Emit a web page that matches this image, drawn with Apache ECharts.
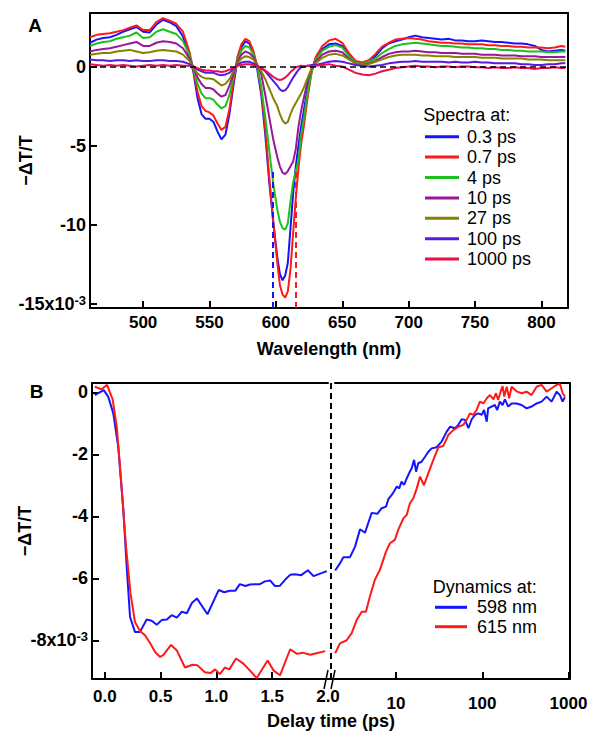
<!DOCTYPE html>
<html>
<head>
<meta charset="utf-8">
<script src="https://cdn.jsdelivr.net/npm/echarts@6/dist/echarts.min.js"></script>
<style>html,body{margin:0;padding:0;background:#fff;}#chart{width:589px;height:735px;}</style>
</head>
<body>
<div id="chart"></div>
<script>
// ---------- Panel A data (−ΔT/T in units of 1e-3) ----------
const wavelengths = [460,465,470,475,480,485,490,495,500,505,510,515,520,525,530,535,
538,541,544,547,550,553,556,559,562,565,568,571,574,577,580,583,586,
589,592,595,598,601,
603,605,607,609,611,613,615,617,619,621,
624,627,630,
635,640,645,650,655,660,665,670,675,680,685,690,695,700,705,710,715,720,725,730,735,740,745,750,755,760,765,770,775,780,785,790,795,800,805,810,815,
818];
const spec03ps = [1.5,1.7,1.8,1.85,2.0,2.2,2.35,2.5,2.2,2.15,2.65,2.95,2.8,2.55,1.9,0.6,
-0.4,-2.0,-3.0,-3.3,-3.3,-3.5,-4.1,-4.6,-4.3,-3.0,-1.2,0.4,1.2,1.6,1.45,0.9,-0.2,
-1.8,-4.3,-7.3,-9.8,-12.0,
-13.1,-13.5,-13.2,-12.4,-10.2,-8.0,-6.3,-5.0,-3.8,-2.8,
-1.3,-0.2,0.5,
1.1,1.4,1.45,1.3,0.75,0.3,0.15,0.35,0.65,1.15,1.45,1.6,1.7,1.85,1.95,1.85,1.8,1.75,1.7,1.75,1.65,1.65,1.6,1.6,1.65,1.6,1.55,1.55,1.5,1.45,1.45,1.4,1.3,1.05,0.95,1.0,1.05,
1.0];
const spec07ps = [1.85,2.0,2.05,2.1,2.2,2.3,2.45,2.6,2.3,2.3,2.8,3.05,2.9,2.7,2.2,0.9,
-0.3,-1.6,-2.5,-2.8,-2.9,-3.1,-3.6,-4.0,-3.8,-2.7,-1.0,0.6,1.4,1.75,1.6,1.0,0.0,
-1.5,-3.9,-7.0,-9.8,-12.3,
-13.8,-14.4,-14.6,-14.2,-12.8,-10.5,-8.3,-6.4,-4.9,-3.8,
-1.9,-0.3,0.6,
1.3,1.65,1.75,1.5,0.85,0.35,0.25,0.4,0.8,1.25,1.5,1.7,1.75,1.8,1.75,1.7,1.6,1.55,1.5,1.5,1.45,1.45,1.4,1.4,1.4,1.35,1.35,1.3,1.3,1.25,1.25,1.2,1.2,1.2,1.15,1.2,1.3,
1.25];
const spec4ps = [1.3,1.45,1.55,1.6,1.75,1.85,1.95,2.15,1.8,1.85,2.2,2.35,2.2,2.05,1.6,0.7,
-0.2,-1.1,-1.7,-2.0,-2.0,-2.1,-2.4,-2.65,-2.5,-1.8,-0.7,0.4,1.0,1.3,1.2,0.8,0.0,
-1.3,-3.2,-5.3,-7.4,-9.0,
-9.8,-10.2,-10.3,-9.9,-8.5,-7.3,-6.6,-5.9,-4.3,-3.3,
-1.6,-0.3,0.4,
1.0,1.25,1.35,1.2,0.65,0.25,0.15,0.3,0.5,0.85,1.1,1.3,1.4,1.45,1.5,1.45,1.4,1.35,1.3,1.3,1.25,1.2,1.2,1.15,1.15,1.1,1.1,1.05,1.05,1.0,1.0,0.95,0.95,0.95,0.9,0.9,0.95,
0.95];
const spec10ps = [0.95,1.05,1.1,1.15,1.25,1.35,1.45,1.55,1.3,1.3,1.5,1.6,1.55,1.45,1.15,0.5,
-0.1,-0.7,-1.1,-1.35,-1.35,-1.45,-1.7,-1.9,-1.8,-1.2,-0.5,0.3,0.75,0.95,0.85,0.6,0.1,
-0.5,-1.8,-3.2,-4.6,-5.7,
-6.3,-6.7,-6.8,-6.6,-6.3,-6.0,-5.2,-3.8,-2.8,-2.0,
-0.9,-0.1,0.3,
0.75,0.95,1.0,0.9,0.5,0.2,0.1,0.2,0.35,0.6,0.8,0.9,0.95,0.95,1.0,0.95,0.9,0.9,0.85,0.85,0.85,0.8,0.8,0.8,0.75,0.75,0.75,0.7,0.7,0.7,0.65,0.65,0.65,0.6,0.6,0.6,0.6,
0.6];
const spec27ps = [0.75,0.8,0.85,0.85,0.95,1.0,1.05,0.95,0.85,0.9,1.0,1.05,1.0,0.95,0.75,0.35,
-0.1,-0.45,-0.65,-0.75,-0.75,-0.8,-1.0,-1.2,-1.1,-0.8,-0.3,0.2,0.5,0.65,0.6,0.45,0.1,
-0.3,-0.8,-1.4,-2.0,-2.5,
-3.0,-3.4,-3.6,-3.5,-3.0,-2.6,-2.3,-2.0,-1.7,-1.35,
-0.7,-0.1,0.2,
0.55,0.75,0.8,0.7,0.45,0.2,0.1,0.15,0.3,0.45,0.6,0.7,0.75,0.75,0.75,0.7,0.7,0.65,0.65,0.65,0.6,0.6,0.6,0.6,0.55,0.55,0.55,0.5,0.5,0.5,0.5,0.45,0.45,0.45,0.4,0.4,0.4,
0.4];
const spec100ps = [0.45,0.4,0.4,0.35,0.4,0.4,0.35,0.4,0.35,0.35,0.4,0.4,0.35,0.35,0.3,0.15,
0.0,-0.2,-0.3,-0.4,-0.4,-0.4,-0.5,-0.55,-0.5,-0.4,-0.15,0.1,0.25,0.3,0.3,0.2,0.05,
-0.1,-0.3,-0.6,-0.9,-1.2,
-1.45,-1.55,-1.5,-1.3,-1.0,-0.7,-0.45,-0.2,-0.05,0.0,
0.05,0.1,0.1,
0.2,0.3,0.35,0.3,0.2,0.1,0.05,0.0,0.05,0.1,0.2,0.25,0.3,0.3,0.35,0.3,0.3,0.3,0.3,0.25,0.3,0.25,0.25,0.3,0.25,0.25,0.2,0.2,0.2,0.2,0.15,0.15,0.1,0.1,0.15,0.15,0.2,
0.2];
const spec1000ps = [0.15,0.1,0.05,0.1,0.05,0.1,0.05,0.0,0.05,0.1,0.05,0.1,0.05,0.1,0.05,0.05,
0.0,-0.1,-0.2,-0.25,-0.25,-0.3,-0.3,-0.35,-0.3,-0.2,-0.1,0.05,0.1,0.15,0.15,0.1,0.0,
-0.1,-0.25,-0.45,-0.65,-0.8,
-0.85,-0.8,-0.7,-0.55,-0.35,-0.2,-0.05,0.0,0.05,0.0,
0.05,0.0,0.05,
0.1,0.15,0.05,0.0,-0.2,-0.4,-0.5,-0.55,-0.45,-0.3,-0.2,-0.1,-0.05,0.0,0.05,0.0,0.0,-0.05,0.0,0.0,-0.05,0.0,0.0,-0.05,-0.05,-0.1,-0.05,-0.1,-0.1,-0.05,-0.1,-0.1,-0.15,-0.1,-0.1,-0.05,-0.1,
-0.1];
const spectraNames = ['0.3 ps','0.7 ps','4 ps','10 ps','27 ps','100 ps','1000 ps'];
const probeWavelengths = [598, 615];
const wlTicks = [500,550,600,650,700,750,800];
const yTicksA = [0,-5,-10,-15];

// ---------- Panel B data ----------
const t598Early = [-0.09,-0.01,0.03,0.076,0.12,0.166,0.196,0.226,0.27,0.315,0.375,0.42,0.465,0.51,0.555,0.6,0.645,0.69,0.735,0.78,0.825,0.92,1.02,1.07,1.12,1.17,1.21,1.26,1.3,1.345,1.39,1.435,1.48,1.525,1.57,1.615,1.66,1.705,1.76,1.82,1.87,1.93,1.99];
const v598Early = [-0.09,0.07,-0.14,-0.68,-1.75,-3.8,-5.63,-7.25,-7.73,-7.73,-7.33,-7.37,-7.5,-7.35,-7.33,-7.19,-7.27,-7.08,-7.13,-6.8,-6.65,-7.16,-6.38,-6.45,-6.4,-6.4,-6.19,-6.25,-6.2,-6.19,-6.19,-6.1,-6.07,-6.25,-6.24,-6.05,-5.89,-5.87,-5.9,-5.74,-5.93,-5.85,-5.77];
const t615Early = [-0.09,-0.03,0.02,0.07,0.107,0.15,0.19,0.23,0.27,0.315,0.36,0.405,0.45,0.495,0.526,0.593,0.644,0.718,0.786,0.829,0.897,0.947,0.988,1.031,1.075,1.116,1.176,1.244,1.301,1.361,1.459,1.513,1.57,1.661,1.722,1.772,1.84,1.907,1.975];
const v615Early = [0.18,0.1,0.24,-0.23,-1.11,-3.05,-4.98,-6.49,-7.41,-7.7,-7.84,-8.09,-8.38,-8.54,-8.47,-8.15,-8.32,-8.88,-8.79,-8.81,-9.03,-9.06,-8.94,-9.09,-8.88,-8.94,-8.59,-8.76,-8.98,-9.22,-8.65,-8.98,-9.13,-8.29,-8.44,-8.4,-8.47,-8.41,-8.35];
const t598Late = [1.97,2.24,2.45,2.93,3.35,3.83,4.37,5.22,6.07,6.82,7.66,8.15,8.92,9.48,10.2,10.9,11.6,12.4,13.3,14.3,15.2,16.2,17.1,18.1,19.8,21.7,23.7,25.9,29.6,33.8,38.7,42.3,48.3,52.8,57.8,63.2,69.1,75.5,82.5,90.2,98.7,104.9,112.7,117,128,140,149,160,172,183,200,219,250,286,327,373,427,488,557,637,728,796,855,908];
const v598Late = [-5.75,-5.52,-5.32,-5.32,-4.98,-4.42,-4.53,-3.89,-3.92,-3.74,-3.69,-3.45,-3.31,-3.2,-3.04,-3.1,-2.88,-2.99,-2.78,-2.59,-2.45,-2.18,-2.56,-2.29,-2.24,-2.08,-1.92,-1.81,-1.77,-1.59,-1.27,-1.11,-1.16,-1.05,-0.87,-0.89,-1.16,-0.87,-0.73,-0.68,-0.73,-0.57,-0.95,-0.52,-0.46,-0.41,-0.57,-0.3,-0.41,-0.23,-0.46,-0.36,-0.36,-0.41,-0.52,-0.46,-0.36,-0.3,-0.14,-0.3,0.02,-0.09,-0.3,-0.16];
const t615Late = [1.97,2.24,2.68,3.06,3.5,4.0,4.48,4.98,5.69,6.51,7.66,8.5,9.7,10.6,12.2,13.3,14.5,15.9,17.4,19,21.1,23.7,27.1,31,35.4,40.4,46.2,52.8,60.3,65.9,72,78.7,86,94,103,113,123,135,144,153,163,172,180,192,205,219,254,286,327,373,427,488,557,637,728,796,855,912];
const v615Late = [-8.42,-8.1,-8.0,-7.77,-7.35,-7.08,-7.08,-6.59,-6.05,-5.73,-5.14,-4.87,-4.76,-4.44,-4.06,-3.96,-3.58,-3.42,-3.1,-2.72,-3.0,-2.61,-2.18,-1.77,-1.73,-1.38,-1.22,-1.11,-1.05,-0.89,-0.68,-0.73,-0.57,-0.3,-0.36,-0.19,-0.09,-0.23,-0.03,-0.25,0.02,0.2,-0.14,0.18,-0.19,0.18,0.02,-0.03,0.02,-0.09,0.18,0.24,0.02,0.13,0.24,0.27,-0.03,-0.14];
const dynamicsNames = ['598 nm','615 nm'];
const earlyTicks = [0,0.5,1.0,1.5];
const earlyLabels = [0,0.5,1.0,1.5,2.0];
const lateTicks = [10,100,1000];
const yTicksB = [0,-2,-4,-6,-8];

// ---------- styling ----------
const FONT = '"Liberation Sans", Arial, Helvetica, sans-serif';
const spectraColors = ['#1414ff','#ff1a1a','#1ec01e','#9a169a','#868200','#5a18e0','#e8104a'];
const dynColors = ['#1414ff','#ff1a1a'];
const spectraData = [spec03ps, spec07ps, spec4ps, spec10ps, spec27ps, spec100ps, spec1000ps];

function pairs(xs, ys){ return xs.map((x,i)=>[x, ys[i]]); }

const lineAx = {show:true, onZero:false, lineStyle:{color:'#000', width:2}};
const tickIn = {show:true, inside:true, length:7, lineStyle:{color:'#000', width:2}};
const lblFont = {fontSize:17, fontWeight:'bold', fontFamily:FONT, color:'#000'};
function frameAxis(extra){ return Object.assign({type:'value', axisLine:lineAx, axisTick:{show:false}, axisLabel:{show:false}, splitLine:{show:false}}, extra); }
const superRich = {
  n:{fontSize:18, fontWeight:'bold', fontFamily:FONT, color:'#000', lineHeight:21},
  s:{fontSize:13, fontWeight:'bold', fontFamily:FONT, color:'#000', verticalAlign:'top', lineHeight:13}
};
const yNameStyle = {fontSize:18, fontWeight:'bold', fontFamily:FONT, color:'#000'};

const A_MIN = -15.25, A_MAX = 3.38, B_MIN = -9.25, B_MAX = 0.3;

const series = [];
spectraNames.forEach((nm, i) => {
  const s = {
    type:'line', name:nm, xAxisIndex:0, yAxisIndex:0,
    data: pairs(wavelengths, spectraData[i]),
    showSymbol:false, symbol:'none', animation:false,
    lineStyle:{width:2, color:spectraColors[i]}, itemStyle:{color:spectraColors[i]}
  };
  if (i === 0) {
    s.markLine = {silent:true, symbol:'none', animation:false, label:{show:false},
      data:[
        {yAxis:0, lineStyle:{color:'#000', type:[6,4], width:1.5}},
        [{coord:[probeWavelengths[0], A_MIN], lineStyle:{color:dynColors[0], type:[6,4], width:2}}, {coord:[probeWavelengths[0], -6.5]}]
      ]};
  }
  if (i === 1) {
    s.markLine = {silent:true, symbol:'none', animation:false, label:{show:false},
      data:[
        [{coord:[probeWavelengths[1], A_MIN], lineStyle:{color:dynColors[1], type:[6,4], width:2}}, {coord:[probeWavelengths[1], -6.5]}]
      ]};
  }
  series.push(s);
});
const dynSets = [[t598Early, v598Early, t598Late, v598Late],[t615Early, v615Early, t615Late, v615Late]];
dynamicsNames.forEach((nm, i) => {
  const d = dynSets[i];
  series.push({type:'line', name:nm, xAxisIndex:2, yAxisIndex:2, data:pairs(d[0], d[1]), showSymbol:false, symbol:'none', animation:false,
    lineStyle:{width:2, color:dynColors[i]}, itemStyle:{color:dynColors[i]}});
  series.push({type:'line', name:nm, xAxisIndex:4, yAxisIndex:3, data:pairs(d[2], d[3]), showSymbol:false, symbol:'none', animation:false,
    lineStyle:{width:2, color:dynColors[i]}, itemStyle:{color:dynColors[i]}});
});

const option = {
  animation:false,
  backgroundColor:'#fff',
  grid:[
    {left:90, top:13, width:478, height:295, containLabel:false, outerBoundsMode:'none'},
    {left:92, top:383, width:236, height:296, containLabel:false, outerBoundsMode:'none'},
    {left:335, top:383, width:234.5, height:296, containLabel:false, outerBoundsMode:'none'}
  ],
  xAxis:[
    {type:'value', gridIndex:0, position:'bottom', min:460, max:820,
      axisLine:lineAx, axisTick:Object.assign({customValues:wlTicks}, tickIn),
      axisLabel:Object.assign({customValues:wlTicks, margin:6}, lblFont), splitLine:{show:false},
      name:'Wavelength (nm)', nameLocation:'middle', nameGap:32, nameMoveOverlap:false,
      nameTextStyle:{fontSize:18, fontWeight:'bold', fontFamily:FONT, color:'#000'}},
    frameAxis({gridIndex:0, position:'top', min:460, max:820}),
    {type:'value', gridIndex:1, position:'bottom', min:-0.115, max:2.0,
      axisLine:lineAx, axisTick:Object.assign({customValues:earlyTicks}, tickIn),
      axisLabel:Object.assign({customValues:earlyLabels, margin:9, formatter:v=>Number(v).toFixed(1)}, lblFont), splitLine:{show:false}},
    frameAxis({gridIndex:1, position:'top', min:-0.115, max:2.0}),
    {type:'log', logBase:10, gridIndex:2, position:'bottom', min:1.962, max:1027,
      axisLine:lineAx, axisTick:Object.assign({customValues:lateTicks}, tickIn),
      axisLabel:Object.assign({customValues:lateTicks, margin:16, formatter:v=>String(Math.round(v))}, lblFont),
      minorTick:{show:false}, splitLine:{show:false}},
    frameAxis({type:'log', gridIndex:2, position:'top', min:1.962, max:1027})
  ],
  yAxis:[
    {type:'value', gridIndex:0, position:'left', min:A_MIN, max:A_MAX,
      axisLine:lineAx, axisTick:Object.assign({customValues:yTicksA}, tickIn),
      axisLabel:{customValues:yTicksA, margin:4, formatter:v => v === -15 ? '{n|-15x10}{s|-3}' : '{n|' + v + '}', rich:superRich},
      splitLine:{show:false},
      name:'\u2212\u0394T/T', nameLocation:'middle', nameRotate:90, nameGap:55, nameMoveOverlap:false,
      nameTextStyle:yNameStyle},
    frameAxis({gridIndex:0, position:'right', min:A_MIN, max:A_MAX}),
    {type:'value', gridIndex:1, position:'left', min:B_MIN, max:B_MAX,
      axisLine:lineAx, axisTick:Object.assign({customValues:yTicksB}, tickIn),
      axisLabel:{customValues:yTicksB, margin:4, formatter:v => v === -8 ? '{n|-8x10}{s|-3}' : '{n|' + v + '}', rich:superRich},
      splitLine:{show:false},
      name:'\u2212\u0394T/T', nameLocation:'middle', nameRotate:90, nameGap:58, nameMoveOverlap:false,
      nameTextStyle:yNameStyle},
    frameAxis({gridIndex:2, position:'right', min:B_MIN, max:B_MAX})
  ],
  legend:[
    {data:spectraNames, orient:'vertical', left:425, top:126.5, itemWidth:34, itemHeight:3, icon:'rect', itemGap:0,
      selectedMode:false, padding:0,
      textStyle:{fontSize:18, fontFamily:FONT, color:'#000', lineHeight:20.4, padding:[0,0,0,3]}},
    {data:dynamicsNames, orient:'vertical', left:435, top:597.6, itemWidth:32, itemHeight:3, icon:'rect', itemGap:0,
      selectedMode:false, padding:0,
      textStyle:{fontSize:18, fontFamily:FONT, color:'#000', lineHeight:19.4, padding:[0,0,0,5]}}
  ],
  graphic:[
    {type:'text', x:35, y:25, style:{text:'A', fontSize:19, fontWeight:'bold', fontFamily:FONT, fill:'#000', align:'center', verticalAlign:'middle'}},
    {type:'text', x:36.5, y:391, style:{text:'B', fontSize:19, fontWeight:'bold', fontFamily:FONT, fill:'#000', align:'center', verticalAlign:'middle'}},
    {type:'text', x:423.3, y:115, style:{text:'Spectra at:', fontSize:18, fontFamily:FONT, fill:'#000', align:'left', verticalAlign:'middle'}},
    {type:'text', x:432.7, y:586.7, style:{text:'Dynamics at:', fontSize:18, fontFamily:FONT, fill:'#000', align:'left', verticalAlign:'middle'}},
    {type:'text', x:331, y:721, style:{text:'Delay time (ps)', fontSize:18, fontWeight:'bold', fontFamily:FONT, fill:'#000', align:'center', verticalAlign:'middle'}},
    {type:'line', shape:{x1:331, y1:383, x2:331, y2:679}, style:{stroke:'#000', lineWidth:2, lineDash:[6,4]}},
    {type:'line', shape:{x1:327, y1:679, x2:336, y2:679}, style:{stroke:'#000', lineWidth:2}},
    {type:'line', shape:{x1:324, y1:689, x2:328, y2:670}, style:{stroke:'#000', lineWidth:1.5}},
    {type:'line', shape:{x1:331, y1:689, x2:335, y2:670}, style:{stroke:'#000', lineWidth:1.5}}
  ],
  series: series
};

const chart = echarts.init(document.getElementById('chart'), null, {renderer:'svg', width:589, height:735});
chart.setOption(option);
</script>
</body>
</html>
